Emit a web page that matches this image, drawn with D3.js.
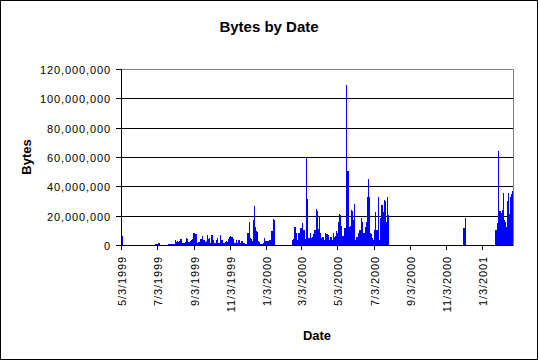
<!DOCTYPE html>
<html lang="en">
<head>
  <meta charset="UTF-8">
  <title>Bytes by Date</title>
  <style>
    body {
      margin: 0;
      background-color: #ffffff;
    }
    svg {
      display: block;
    }
    .tick-label {
      font-family: Arial, 'Liberation Sans', sans-serif;
      font-size: 11px;
      letter-spacing: 0.9px;
      fill: black;
    }
    .axis-title {
      font-family: Arial, 'Liberation Sans', sans-serif;
      font-size: 13px;
      font-weight: bold;
      fill: black;
    }
    .chart-title {
      font-family: Arial, 'Liberation Sans', sans-serif;
      font-size: 15px;
      font-weight: bold;
      fill: black;
    }
  </style>
</head>
<body>
  <svg width="540" height="361"></svg>
  <script src="https://d3js.org/d3.v7.min.js"></script>
  <script>
    // Data: runs of consecutive days, values in millions of bytes per day
    const runStarts = ["1999-05-03", "1999-06-30", "1999-07-21", "2000-02-16", "2000-12-02", "2001-01-25"];

    const run1 = [6.2, 6.0, 0.8];
    const run2 = [0.5, 0.6, 0.7, 0.6, 0.7, 1.5, 1.4];
    const run3 = [
      0.9, 0.8, 1.0, 0.9, 0.8, 0.9, 1.0, 0.9, 0.8, 0.9, 1.0, 0.9,
      3.2, 3.0, 2.3, 2.1, 2.4, 2.2, 2.3, 2.7, 3.9, 3.6, 3.9,
      1.6, 1.4, 1.7, 1.5, 1.6, 1.5, 2.3, 2.2, 4.6, 4.4,
      2.0, 1.8, 2.1, 1.9, 3.0, 2.8, 3.1, 2.9, 4.1, 3.9,
      8.0, 7.6, 8.1, 7.3, 7.0, 7.2, 1.6, 1.5, 1.7, 2.3, 2.1, 2.4,
      4.1, 3.8, 4.0, 6.1, 3.4, 3.1, 3.5, 3.2, 2.3, 2.2, 2.4, 6.8,
      4.6, 4.3, 4.5, 1.6, 1.4, 1.7, 6.8, 6.5, 3.9, 3.7,
      1.1, 1.0, 1.2, 1.1, 3.4, 3.2, 4.6, 4.4, 1.6, 1.5, 1.7,
      6.8, 6.6, 3.4, 3.3, 1.6, 1.5, 1.7, 1.5, 1.6, 2.3, 2.2, 2.4, 2.1, 2.3,
      4.1, 3.9, 5.7, 5.4, 5.8, 5.5, 5.6, 5.3, 3.9, 3.7, 1.6, 1.5, 1.7,
      3.4, 3.2, 1.6, 1.5, 3.4, 3.3, 1.6, 1.4, 1.7, 3.0, 2.8,
      1.6, 1.5, 1.7, 1.5, 0.9, 0.8, 1.0, 0.9, 8.0, 7.7, 8.1,
      15.9, 14.8, 4.6, 4.3, 2.3, 2.1, 2.4, 16.5, 17.1, 26.8, 12.0,
      9.8, 9.5, 9.0, 2.3, 2.1, 2.4, 2.2,
      1.1, 1.0, 0.7, 0.6, 0.8, 0.7, 1.1, 4.6, 4.3,
      2.7, 2.5, 2.8, 2.6, 2.7, 2.5, 2.3, 2.2, 3.4, 3.2, 2.3,
      9.6, 9.3, 9.8, 17.5, 16.8, 10.2
    ];
    const run4 = [
      3.4, 3.0, 3.8, 10.2, 12.5, 12.0, 8.0, 7.5, 3.4, 3.0, 3.6, 8.0, 8.4, 10.2,
      11.4, 11.0, 11.8, 15.2, 10.2, 9.8, 10.5, 4.6, 4.2, 4.8,
      59.6, 31.4, 31.0, 4.6, 4.6, 4.2, 8.0, 7.6, 4.6, 4.3, 5.7, 5.4, 7.5, 7.2,
      10.2, 9.9, 15.9, 24.6, 23.0, 11.4, 11.0, 19.3, 18.5, 8.0, 7.6, 4.6, 4.3,
      5.7, 5.5, 3.4, 3.2, 3.5, 8.0, 7.7, 3.9, 3.7, 7.3, 7.0, 3.4, 3.2, 3.5,
      5.7, 5.4, 3.4, 3.3, 8.0, 7.8, 5.7, 5.5, 5.8, 9.8, 9.5, 8.0, 7.7,
      15.5, 15.0, 21.2, 20.5, 13.7, 13.2, 6.1, 5.8, 6.2, 5.9, 11.4, 11.0, 11.6,
      64.2, 109.2, 50.5, 50.5, 35.3, 12.5, 12.0, 12.8, 12.3,
      23.9, 23.0, 17.1, 16.5, 17.3, 28.0, 3.4, 3.2, 3.5, 5.7, 5.5,
      8.0, 7.7, 8.2, 10.2, 9.9, 18.2, 17.6, 15.9, 15.3, 8.0, 7.8, 8.1,
      12.5, 12.1, 15.9, 15.4, 33.0, 33.0, 45.0, 33.0, 33.0, 8.0, 7.7,
      4.6, 4.4, 4.7, 3.4, 3.3, 10.2, 9.9, 22.8, 10.2, 9.8, 10.4, 33.0,
      3.4, 3.2, 3.5, 18.2, 17.7, 27.3, 26.5, 27.0, 22.8, 22.0, 30.7, 30.0,
      15.9, 15.4, 33.0, 21.2, 20.6
    ];
    const run5 = [11.4, 11.4, 18.2];
    const run6 = [
      10.2, 10.0, 15.0, 14.5, 39.0, 64.2, 23.0, 23.0, 21.6, 21.0, 21.8,
      23.9, 23.5, 35.3, 17.1, 16.8, 15.9, 15.5, 12.5, 30.0, 29.5, 35.3,
      21.6, 21.0, 33.0, 13.7, 13.3, 34.8, 36.9
    ];
    const runValues = [run1, run2, run3, run4, run5, run6];

    const yTicks = [0, 20e6, 40e6, 60e6, 80e6, 100e6, 120e6];
    const xTickLabels = ["5/3/1999", "7/3/1999", "9/3/1999", "11/3/1999", "1/3/2000", "3/3/2000",
      "5/3/2000", "7/3/2000", "9/3/2000", "11/3/2000", "1/3/2001"];
    const dateStart = "1999-05-03", dateEnd = "2001-02-23";

    // flatten runs into daily records
    const parseIso = d3.timeParse("%Y-%m-%d");
    const parseMdy = d3.timeParse("%m/%d/%Y");
    const data = [];
    runStarts.forEach((s, i) => {
      const start = parseIso(s);
      runValues[i].forEach((v, j) => {
        data.push({ date: d3.timeDay.offset(start, j), bytes: v * 1e6 });
      });
    });

    const svg = d3.select('svg');
    const plot = { left: 121, right: 513, top: 69, bottom: 245 };

    const x = d3.scaleTime()
      .domain([parseIso(dateStart), parseIso(dateEnd)])
      .range([plot.left + 0.5, plot.right]);
    const y = d3.scaleLinear()
      .domain([0, 120e6])
      .range([plot.bottom, plot.top]);

    // outer border
    svg.append('rect')
      .attr('x', 0.5).attr('y', 0.5)
      .attr('width', 537).attr('height', 359)
      .attr('fill', 'white')
      .attr('stroke', 'black');

    // gridlines
    svg.append('g')
      .selectAll('line')
      .data(yTicks.filter(t => t > 0 && t < 120e6))
      .join('line')
      .attr('x1', plot.left).attr('x2', plot.right)
      .attr('y1', d => Math.round(y(d)) + 0.5)
      .attr('y2', d => Math.round(y(d)) + 0.5)
      .attr('stroke', 'black');

    // plot area border (top and right, gray)
    svg.append('path')
      .attr('d', `M${plot.left},${plot.top + 0.5}H${plot.right + 0.5}V${plot.bottom}`)
      .attr('fill', 'none')
      .attr('stroke', '#808080');

    // bars
    svg.append('g')
      .attr('shape-rendering', 'crispEdges')
      .selectAll('rect')
      .data(data)
      .join('rect')
      .attr('x', d => Math.floor(x(d.date)))
      .attr('width', d => Math.max(1, Math.round(x(d3.timeDay.offset(d.date, 1))) - Math.floor(x(d.date))))
      .attr('y', d => Math.round(y(d.bytes)))
      .attr('height', d => plot.bottom - Math.round(y(d.bytes)))
      .attr('fill', '#0000ff');

    // y axis
    const yAxis = svg.append('g');
    yAxis.append('line')
      .attr('x1', plot.left + 0.5).attr('x2', plot.left + 0.5)
      .attr('y1', plot.top).attr('y2', plot.bottom + 5)
      .attr('stroke', 'black');
    yAxis.selectAll('line.tick')
      .data(yTicks)
      .join('line')
      .attr('class', 'tick')
      .attr('x1', plot.left - 5).attr('x2', plot.left)
      .attr('y1', d => Math.round(y(d)) + 0.5)
      .attr('y2', d => Math.round(y(d)) + 0.5)
      .attr('stroke', 'black');
    yAxis.selectAll('text')
      .data(yTicks)
      .join('text')
      .attr('class', 'tick-label')
      .attr('x', plot.left - 10)
      .attr('y', d => Math.round(y(d)) + 5)
      .attr('text-anchor', 'end')
      .text(d3.format(','));

    // x axis
    const xAxis = svg.append('g');
    xAxis.append('line')
      .attr('x1', plot.left).attr('x2', plot.right + 0.5)
      .attr('y1', plot.bottom + 0.5).attr('y2', plot.bottom + 0.5)
      .attr('stroke', 'black');
    const xTicks = xTickLabels.map(s => ({ label: s, date: parseMdy(s) }));
    xAxis.selectAll('line.tick')
      .data(xTicks)
      .join('line')
      .attr('class', 'tick')
      .attr('x1', d => Math.floor(x(d.date)) + 0.5)
      .attr('x2', d => Math.floor(x(d.date)) + 0.5)
      .attr('y1', plot.bottom).attr('y2', plot.bottom + 5)
      .attr('stroke', 'black');
    xAxis.selectAll('text')
      .data(xTicks)
      .join('text')
      .attr('class', 'tick-label')
      .attr('text-anchor', 'end')
      .attr('transform', d => `translate(${Math.floor(x(d.date)) + 4.5},${plot.bottom + 11}) rotate(-90)`)
      .text(d => d.label);

    // titles
    svg.append('text')
      .attr('class', 'chart-title')
      .attr('x', 269).attr('y', 32)
      .attr('text-anchor', 'middle')
      .text('Bytes by Date');

    svg.append('text')
      .attr('class', 'axis-title')
      .attr('x', (plot.left + plot.right) / 2).attr('y', 340)
      .attr('text-anchor', 'middle')
      .text('Date');

    svg.append('text')
      .attr('class', 'axis-title')
      .attr('text-anchor', 'middle')
      .attr('transform', `translate(31,${(plot.top + plot.bottom) / 2}) rotate(-90)`)
      .text('Bytes');
  </script>
</body>
</html>
